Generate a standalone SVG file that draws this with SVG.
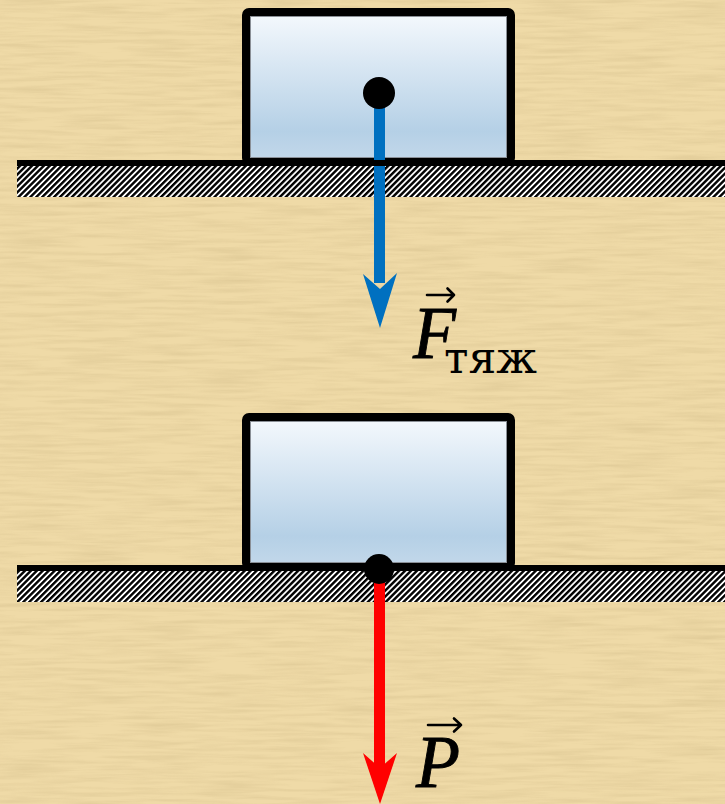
<svg xmlns="http://www.w3.org/2000/svg" width="725" height="804" viewBox="0 0 725 804">
<defs>
<linearGradient id="boxg" x1="0" y1="0" x2="0" y2="1">
<stop offset="0" stop-color="#F5F9FD"/>
<stop offset="0.8" stop-color="#B5D0E6"/>
<stop offset="1" stop-color="#C3D8EA"/>
</linearGradient>
<pattern id="hatch" patternUnits="userSpaceOnUse" width="4.2" height="10" patternTransform="rotate(45)">
<rect x="0" y="0" width="4.2" height="10" fill="#fff"/>
<rect x="0" y="0" width="2.4" height="10" fill="#000"/>
</pattern>
<filter id="tex" x="0" y="0" width="100%" height="100%">
<feTurbulence type="fractalNoise" baseFrequency="0.015 0.25" numOctaves="3" seed="4" result="n"/>
<feColorMatrix in="n" type="matrix" values="0 0 0 0 0.55  0 0 0 0 0.42  0 0 0 0 0.2  0 0 0 -1.6 1.0"/>
</filter>
<style>
.box{fill:url(#boxg);stroke:#000;stroke-width:8;stroke-linejoin:round}
.inner{fill:none;stroke:#8a8f96;stroke-width:1}
.hatch{fill:url(#hatch)}
.band{fill:#000}
.dot{fill:#000}
.lbl{font-family:"Liberation Serif","DejaVu Serif",serif;font-style:italic;fill:#000;stroke:#000;stroke-width:0.9}
.sub{font-family:"DejaVu Serif","Liberation Serif",serif;fill:#000}
.vec{fill:none;stroke:#000;stroke-width:2.6;stroke-linecap:round;stroke-linejoin:round}
</style>
</defs>
<rect width="725" height="804" fill="#EFDAA7"/>
<rect width="725" height="804" filter="url(#tex)" opacity="0.35"/>

<g id="ground1">
<rect class="hatch" x="17" y="165" width="708" height="32"/>
</g>
<g id="box1">
<rect class="box" x="246" y="12" width="265" height="149" rx="3"/>
<rect class="inner" x="250.5" y="16.5" width="256" height="141"/>
</g>
<g id="ground2">
<rect class="hatch" x="17" y="570" width="708" height="32"/>
</g>
<g id="box2">
<rect class="box" x="246" y="417" width="265" height="149" rx="3"/>
<rect class="inner" x="250.5" y="421.5" width="256" height="141"/>
</g>

<g id="connectors">
<g id="gravity">
<rect x="374" y="93" width="11" height="190" fill="#0070C0"/>
<path d="M363,274 L380,328 L397,273 L380,289 Z" fill="#0070C0"/>
</g>
<g id="weight">
<rect x="374" y="569" width="11" height="200" fill="#FF0000"/>
<path d="M363,753 L380,804 L397,753 L380,768 Z" fill="#FF0000"/>
</g>
</g>

<rect class="band" x="17" y="160" width="708" height="6"/>
<rect class="band" x="17" y="565" width="708" height="6"/>

<g id="dot1"><circle class="dot" cx="379" cy="93" r="16"/></g>
<g id="dot2"><circle class="dot" cx="379" cy="569" r="15"/></g>

<g id="label-F">
<text class="lbl" x="413" y="358" font-size="74" textLength="43" lengthAdjust="spacingAndGlyphs">F</text>
<path class="vec" d="M427,295 L454,295 M447.5,288.5 L454,295 L447.5,301.5"/>
<text class="sub" x="444" y="373" font-size="44" textLength="93" lengthAdjust="spacingAndGlyphs">тяж</text>
</g>
<g id="label-P">
<text class="lbl" x="416" y="787" font-size="73" textLength="44" lengthAdjust="spacingAndGlyphs">P</text>
<path class="vec" d="M428,725 L461,725 M454,718.5 L461,725 L454,731.5"/>
</g>
</svg>
